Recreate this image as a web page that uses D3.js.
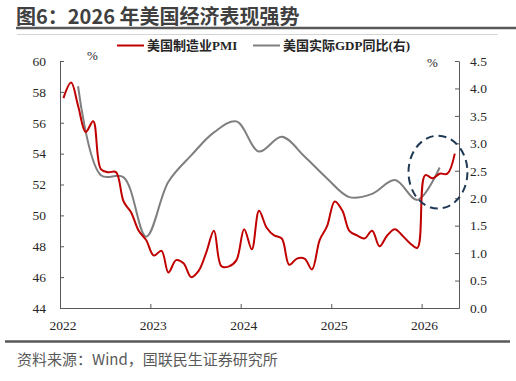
<!DOCTYPE html>
<html><head><meta charset="utf-8">
<script src="https://cdn.jsdelivr.net/npm/d3@7/dist/d3.min.js"></script>
<style>
html,body{margin:0;padding:0;background:#fff;}
svg{display:block;}
</style></head>
<body>
<script>
// ---- data ----
const title = "图6：2026 年美国经济表现强势";
const source = "资料来源：Wind，国联民生证券研究所";
const pmiName = "美国制造业PMI";
const gdpName = "美国实际GDP同比(右)";
// monthly PMI, Jan 2022 .. May 2026
const pmiStart = [2022, 0];
const pmiValues = [
  57.6, 58.6, 57.1, 55.4, 56.1, 53.0, 52.8, 52.8, 50.9, 50.2, 49.0, 48.4,
  47.4, 47.7, 46.3, 47.1, 46.9, 46.0, 46.4, 47.6, 49.0, 46.7, 46.7, 47.1,
  49.1, 47.8, 50.3, 49.2, 48.7, 48.5, 46.8, 47.2, 47.2, 46.5, 48.4, 49.3,
  50.9, 50.3, 49.0, 48.7, 48.5, 49.0, 48.0, 48.7, 49.1, 48.7, 48.2, 47.9,
  52.6, 52.4, 52.7, 52.7, 54.0
];
// quarterly real GDP YoY, 2022Q1 .. 2026Q1
const gdpQuarters = ["2022Q1","2022Q2","2022Q3","2022Q4","2023Q1","2023Q2","2023Q3","2023Q4",
  "2024Q1","2024Q2","2024Q3","2024Q4","2025Q1","2025Q2","2025Q3","2025Q4","2026Q1"];
const gdpValues = [4.04, 2.42, 2.38, 1.30, 2.30, 2.78, 3.20, 3.40, 2.85, 3.12, 2.76, 2.36, 2.02, 2.08, 2.33, 1.97, 2.56];
const leftTicks = [44, 46, 48, 50, 52, 54, 56, 58, 60];
const rightTicks = [0.0, 0.5, 1.0, 1.5, 2.0, 2.5, 3.0, 3.5, 4.0, 4.5];
const yearTicks = [2022, 2023, 2024, 2025, 2026];
// annotation ellipse (in data terms): centre date, PMI value, half-width in months, half-height in PMI pts
const highlight = {date: [2026, 2, 8], value: 52.8, months: 3.9, points: 2.36};

// ---- setup ----
const W = 516, H = 381;
const svg = d3.select("body").append("svg").attr("width", W).attr("height", H);
const serif = "'Liberation Serif','Times New Roman','Noto Sans CJK SC',serif";
const sans = "'Noto Sans CJK SC','Noto Sans',sans-serif";
const axisColor = "#595959", textColor = "#262626";

const x = d3.scaleTime().domain([new Date(2022, 0, 1), new Date(2026, 5, 1)]).range([60, 459]);
const yL = d3.scaleLinear().domain([44, 60]).range([308, 61]);
const yR = d3.scaleLinear().domain([0, 4.5]).range([308, 61]);

// title
svg.append("text").attr("x", 16).attr("y", 24).text(title)
  .attr("font-family", sans).attr("font-weight", "bold").attr("font-size", 20).attr("fill", "#404040");
svg.append("line").attr("x1", 16).attr("x2", 516).attr("y1", 28).attr("y2", 28)
  .attr("stroke", "#595959").attr("stroke-width", 2.5);
svg.append("line").attr("x1", 17).attr("x2", 498).attr("y1", 34.5).attr("y2", 34.5)
  .attr("stroke", "#d4d4d4").attr("stroke-width", 1);

// axes
const fmt1 = d3.format(".1f");
const gL = svg.append("g").attr("transform", "translate(60,0)")
  .call(d3.axisRight(yL).tickValues(leftTicks).tickSize(4).tickSizeOuter(0).tickFormat(d3.format("d")));
const gR = svg.append("g").attr("transform", "translate(459,0)")
  .call(d3.axisLeft(yR).tickValues(rightTicks).tickSize(4).tickSizeOuter(0).tickFormat(fmt1));
const gB = svg.append("g").attr("transform", "translate(0,308)")
  .call(d3.axisTop(x).tickValues(yearTicks.slice(1).map(y => new Date(y, 0, 1))).tickSize(4).tickSizeOuter(0).tickFormat(""));
[gL, gR, gB].forEach(g => {
  g.select(".domain").attr("stroke", axisColor).attr("stroke-width", 1);
  g.selectAll(".tick line").attr("stroke", axisColor);
});
gL.selectAll(".tick text").attr("x", -14).attr("text-anchor", "end")
  .attr("font-family", serif).attr("font-size", 13.5).attr("fill", textColor);
gR.selectAll(".tick text").attr("x", 11).attr("text-anchor", "start")
  .attr("font-family", serif).attr("font-size", 13.5).attr("fill", textColor);
// year labels
svg.append("g").selectAll("text").data(yearTicks).join("text")
  .attr("x", d => x(new Date(d, 0, 1)) + 3).attr("y", 330).attr("text-anchor", "middle")
  .attr("font-family", serif).attr("font-size", 13.5).attr("fill", textColor).text(d => d);

// units
svg.append("text").attr("x", 92.5).attr("y", 59.5).attr("text-anchor", "middle").text("%")
  .attr("font-family", serif).attr("font-size", 13).attr("fill", textColor);
svg.append("text").attr("x", 432.5).attr("y", 67).attr("text-anchor", "middle").text("%")
  .attr("font-family", serif).attr("font-size", 13).attr("fill", textColor);

// series
const pmiData = pmiValues.map((v, i) => ({d: new Date(pmiStart[0], pmiStart[1] + i, 15), v}));
const gdpData = gdpQuarters.map((q, i) => {
  const yr = +q.slice(0, 4), qn = +q.slice(5);
  return {d: new Date(yr, qn * 3 - 1, 15), v: gdpValues[i]};
});
const curve = d3.curveCatmullRom.alpha(0.5);
svg.append("path").datum(gdpData)
  .attr("d", d3.line().x(d => x(d.d)).y(d => yR(d.v)).curve(curve))
  .attr("fill", "none").attr("stroke", "#7f7f7f").attr("stroke-width", 2);
svg.append("path").datum(pmiData)
  .attr("d", d3.line().x(d => x(d.d)).y(d => yL(d.v)).curve(curve))
  .attr("fill", "none").attr("stroke", "#C00000").attr("stroke-width", 2);

// highlight ellipse
const hc = new Date(highlight.date[0], highlight.date[1], highlight.date[2]);
const hx = x(hc), hy = yL(highlight.value);
const rx = x(d3.timeDay.offset(hc, Math.round(highlight.months * 30.44))) - hx;
const ry = yL(highlight.value - highlight.points) - hy;
svg.append("ellipse").attr("cx", hx).attr("cy", hy).attr("rx", rx).attr("ry", ry)
  .attr("fill", "none").attr("stroke", "#203a55").attr("stroke-width", 2).attr("stroke-dasharray", "8,5");

// legend
const lg = svg.append("g");
const legendItems = [{name: pmiName, color: "#C00000", x: 117}, {name: gdpName, color: "#7f7f7f", x: 253}];
legendItems.forEach(it => {
  lg.append("line").attr("x1", it.x).attr("x2", it.x + 27).attr("y1", 45.5).attr("y2", 45.5)
    .attr("stroke", it.color).attr("stroke-width", 2);
  lg.append("text").attr("x", it.x + 30).attr("y", 50).text(it.name)
    .attr("font-family", serif).attr("font-weight", "bold").attr("font-size", 13).attr("fill", textColor);
});

// footer
svg.append("line").attr("x1", 5).attr("x2", 510).attr("y1", 341.5).attr("y2", 341.5)
  .attr("stroke", "#595959").attr("stroke-width", 2.5);
svg.append("text").attr("x", 17).attr("y", 364.5).text(source)
  .attr("font-family", sans).attr("font-size", 15).attr("fill", "#595959");
</script>
</body></html>
